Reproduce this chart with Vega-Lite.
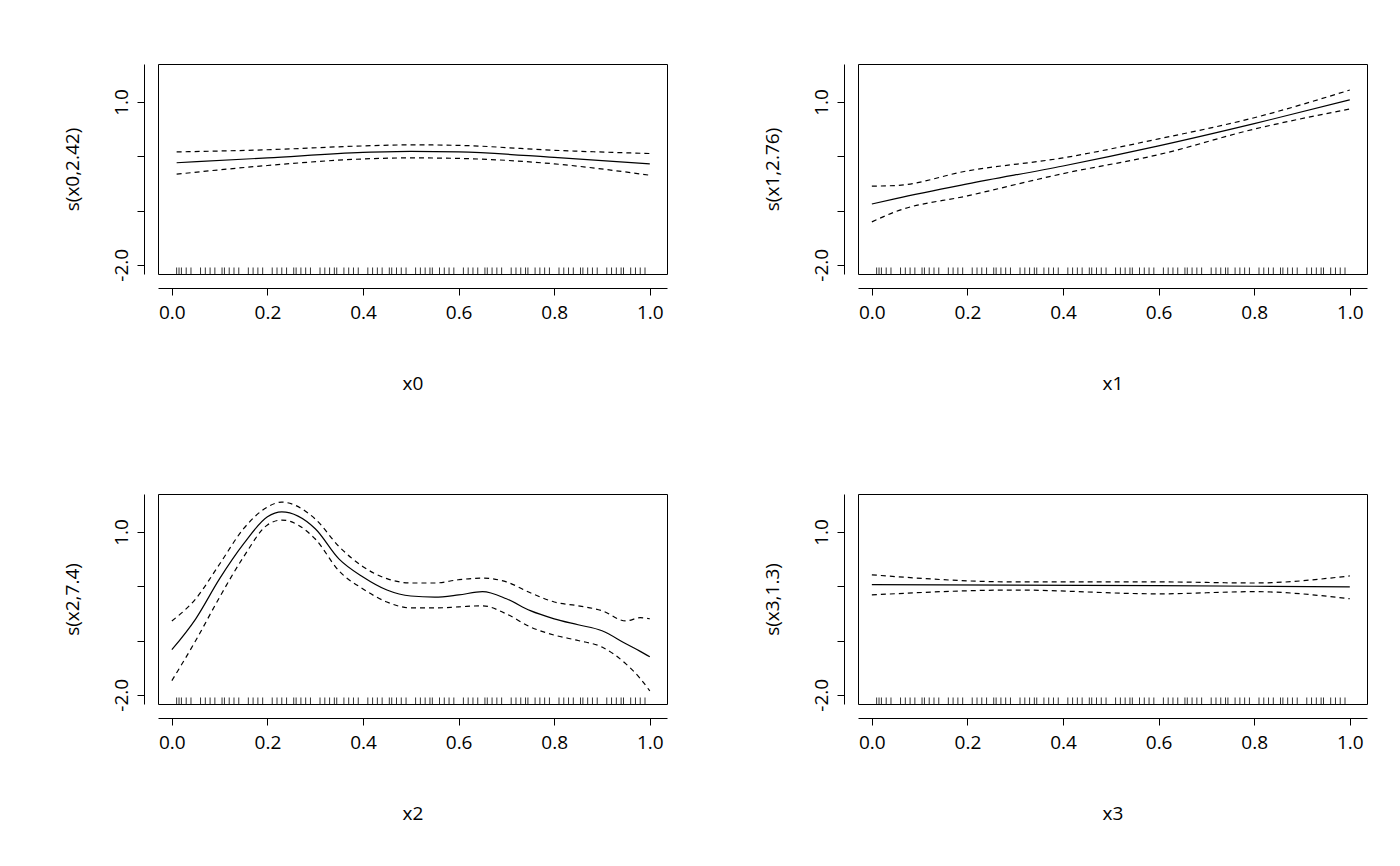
{
  "$schema": "https://vega.github.io/schema/vega-lite/v6.json",
  "padding": {"left": 62, "top": 63, "right": 10, "bottom": 10},
  "config": {
    "font": "Open Sans",
    "view": {"stroke": "black", "strokeWidth": 1},
    "axis": {
      "labelFont": "Open Sans", "titleFont": "Open Sans",
      "labelFontSize": 19, "titleFontSize": 19, "titleFontWeight": "normal",
      "labelColor": "black", "titleColor": "black",
      "domainColor": "black", "tickColor": "black", "tickSize": 7,
      "grid": false, "offset": 14
    }
  },
  "datasets": {
    "curves": [
      {"panel": "x0", "x": 0.01, "fit": -0.12, "up": 0.08, "lo": -0.33},
      {"panel": "x0", "x": 0.2, "fit": -0.03, "up": 0.12, "lo": -0.17},
      {"panel": "x0", "x": 0.4, "fit": 0.07, "up": 0.19, "lo": -0.05},
      {"panel": "x0", "x": 0.5, "fit": 0.09, "up": 0.21, "lo": -0.03},
      {"panel": "x0", "x": 0.6, "fit": 0.08, "up": 0.2, "lo": -0.04},
      {"panel": "x0", "x": 0.8, "fit": -0.02, "up": 0.11, "lo": -0.14},
      {"panel": "x0", "x": 1.0, "fit": -0.14, "up": 0.05, "lo": -0.35},
      {"panel": "x1", "x": 0.0, "fit": -0.88, "up": -0.55, "lo": -1.21},
      {"panel": "x1", "x": 0.05, "fit": -0.78, "up": -0.54, "lo": -1.02},
      {"panel": "x1", "x": 0.2, "fit": -0.51, "up": -0.27, "lo": -0.73},
      {"panel": "x1", "x": 0.4, "fit": -0.18, "up": -0.03, "lo": -0.32},
      {"panel": "x1", "x": 0.6, "fit": 0.19, "up": 0.32, "lo": 0.03},
      {"panel": "x1", "x": 0.8, "fit": 0.6, "up": 0.71, "lo": 0.5},
      {"panel": "x1", "x": 1.0, "fit": 1.04, "up": 1.22, "lo": 0.87},
      {"panel": "x2", "x": 0.0, "fit": -1.17, "up": -0.64, "lo": -1.74},
      {"panel": "x2", "x": 0.05, "fit": -0.6, "up": -0.23, "lo": -1.0},
      {"panel": "x2", "x": 0.1, "fit": 0.14, "up": 0.41, "lo": -0.2},
      {"panel": "x2", "x": 0.15, "fit": 0.78, "up": 1.06, "lo": 0.54},
      {"panel": "x2", "x": 0.2, "fit": 1.28, "up": 1.46, "lo": 1.13},
      {"panel": "x2", "x": 0.23, "fit": 1.37, "up": 1.55, "lo": 1.22},
      {"panel": "x2", "x": 0.3, "fit": 1.06, "up": 1.24, "lo": 0.87},
      {"panel": "x2", "x": 0.35, "fit": 0.5, "up": 0.73, "lo": 0.28},
      {"panel": "x2", "x": 0.4, "fit": 0.17, "up": 0.36, "lo": -0.05},
      {"panel": "x2", "x": 0.45, "fit": -0.07, "up": 0.14, "lo": -0.29},
      {"panel": "x2", "x": 0.5, "fit": -0.18, "up": 0.06, "lo": -0.4},
      {"panel": "x2", "x": 0.55, "fit": -0.2, "up": 0.06, "lo": -0.4},
      {"panel": "x2", "x": 0.6, "fit": -0.16, "up": 0.12, "lo": -0.38},
      {"panel": "x2", "x": 0.65, "fit": -0.1, "up": 0.15, "lo": -0.36},
      {"panel": "x2", "x": 0.7, "fit": -0.23, "up": 0.08, "lo": -0.51},
      {"panel": "x2", "x": 0.75, "fit": -0.45, "up": -0.12, "lo": -0.75},
      {"panel": "x2", "x": 0.8, "fit": -0.6, "up": -0.29, "lo": -0.9},
      {"panel": "x2", "x": 0.85, "fit": -0.71, "up": -0.36, "lo": -1.0},
      {"panel": "x2", "x": 0.9, "fit": -0.82, "up": -0.45, "lo": -1.12},
      {"panel": "x2", "x": 0.95, "fit": -1.06, "up": -0.64, "lo": -1.43},
      {"panel": "x2", "x": 0.98, "fit": -1.2, "up": -0.58, "lo": -1.7},
      {"panel": "x2", "x": 1.0, "fit": -1.3, "up": -0.6, "lo": -1.93},
      {"panel": "x3", "x": 0.0, "fit": 0.03, "up": 0.21, "lo": -0.16},
      {"panel": "x3", "x": 0.3, "fit": 0.02, "up": 0.08, "lo": -0.07},
      {"panel": "x3", "x": 0.6, "fit": 0.01, "up": 0.08, "lo": -0.14},
      {"panel": "x3", "x": 0.8, "fit": 0.0, "up": 0.06, "lo": -0.1},
      {"panel": "x3", "x": 1.0, "fit": -0.01, "up": 0.19, "lo": -0.23}
    ],
    "rug": [
      {"x": 0.01}, {"x": 0.03}, {"x": 0.04}, {"x": 0.06}, {"x": 0.08}, {"x": 0.09}, {"x": 0.11}, {"x": 0.13},
      {"x": 0.14}, {"x": 0.16}, {"x": 0.18}, {"x": 0.19}, {"x": 0.21}, {"x": 0.23}, {"x": 0.24}, {"x": 0.26},
      {"x": 0.28}, {"x": 0.29}, {"x": 0.31}, {"x": 0.33}, {"x": 0.34}, {"x": 0.36}, {"x": 0.38}, {"x": 0.39},
      {"x": 0.41}, {"x": 0.43}, {"x": 0.44}, {"x": 0.46}, {"x": 0.48}, {"x": 0.49}, {"x": 0.51}, {"x": 0.53},
      {"x": 0.54}, {"x": 0.56}, {"x": 0.58}, {"x": 0.59}, {"x": 0.61}, {"x": 0.63}, {"x": 0.64}, {"x": 0.66},
      {"x": 0.68}, {"x": 0.69}, {"x": 0.71}, {"x": 0.73}, {"x": 0.74}, {"x": 0.76}, {"x": 0.78}, {"x": 0.79},
      {"x": 0.81}, {"x": 0.83}, {"x": 0.84}, {"x": 0.86}, {"x": 0.88}, {"x": 0.89}, {"x": 0.91}, {"x": 0.93},
      {"x": 0.94}, {"x": 0.96}, {"x": 0.98}, {"x": 0.99}, {"x": 0.02}, {"x": 0.07}, {"x": 0.12}, {"x": 0.17},
      {"x": 0.22}, {"x": 0.27}, {"x": 0.32}, {"x": 0.37}, {"x": 0.42}, {"x": 0.47}, {"x": 0.52}, {"x": 0.57},
      {"x": 0.62}, {"x": 0.67}, {"x": 0.72}, {"x": 0.77}, {"x": 0.82}, {"x": 0.87}, {"x": 0.92}, {"x": 0.97},
      {"x": 0.015}, {"x": 0.105}, {"x": 0.255}, {"x": 0.345}, {"x": 0.455}, {"x": 0.545}, {"x": 0.655}, {"x": 0.745}, {"x": 0.855}, {"x": 0.945}
    ]
  },
  "vconcat": [
    {
      "hconcat": [
        {
          "width": 509, "height": 210,
          "encoding": {
            "x": {"field": "x", "type": "quantitative", "scale": {"domain": [-0.029, 1.036], "nice": false}, "title": "x0",
                  "axis": {"values": [0, 0.2, 0.4, 0.6, 0.8, 1.0], "format": ".1f", "labelPadding": 8, "titlePadding": 52}}
          },
          "layer": [
            {"data": {"name": "curves"}, "transform": [{"filter": "datum.panel == 'x0'"}], "mark": {"type": "line", "color": "black", "strokeWidth": 1.2, "interpolate": "monotone"},
             "encoding": {"y": {"field": "fit", "type": "quantitative", "title": "s(x0,2.42)", "scale": {"domain": [-2.17, 1.7], "nice": false},
               "axis": {"values": [-2, -1.5, -1, -0.5, 0, 0.5, 1, 1.5], "labelExpr": "datum.value == -2 ? '-2.0' : datum.value == -0.5 ? '-0.5' : datum.value == 1 ? '1.0' : ''", "labelAngle": -90, "labelAlign": "center", "labelBaseline": "bottom", "labelPadding": 6, "titlePadding": 30}}}},
            {"data": {"name": "curves"}, "transform": [{"filter": "datum.panel == 'x0'"}], "mark": {"type": "line", "color": "black", "strokeWidth": 1.2, "strokeDash": [5, 4], "interpolate": "monotone"},
             "encoding": {"y": {"field": "up", "type": "quantitative", "title": "s(x0,2.42)"}}},
            {"data": {"name": "curves"}, "transform": [{"filter": "datum.panel == 'x0'"}], "mark": {"type": "line", "color": "black", "strokeWidth": 1.2, "strokeDash": [5, 4], "interpolate": "monotone"},
             "encoding": {"y": {"field": "lo", "type": "quantitative", "title": "s(x0,2.42)"}}},
            {"data": {"name": "rug"}, "mark": {"type": "rule", "color": "black", "strokeWidth": 0.8},
             "encoding": {"y": {"datum": -2.17, "title": "s(x0,2.42)"}, "y2": {"datum": -2.05}}}
          ]
        },
        {
          "width": 509, "height": 210,
          "encoding": {
            "x": {"field": "x", "type": "quantitative", "scale": {"domain": [-0.029, 1.036], "nice": false}, "title": "x1",
                  "axis": {"values": [0, 0.2, 0.4, 0.6, 0.8, 1.0], "format": ".1f", "labelPadding": 8, "titlePadding": 52}}
          },
          "layer": [
            {"data": {"name": "curves"}, "transform": [{"filter": "datum.panel == 'x1'"}], "mark": {"type": "line", "color": "black", "strokeWidth": 1.2, "interpolate": "monotone"},
             "encoding": {"y": {"field": "fit", "type": "quantitative", "title": "s(x1,2.76)", "scale": {"domain": [-2.17, 1.7], "nice": false},
               "axis": {"values": [-2, -1.5, -1, -0.5, 0, 0.5, 1, 1.5], "labelExpr": "datum.value == -2 ? '-2.0' : datum.value == -0.5 ? '-0.5' : datum.value == 1 ? '1.0' : ''", "labelAngle": -90, "labelAlign": "center", "labelBaseline": "bottom", "labelPadding": 6, "titlePadding": 30}}}},
            {"data": {"name": "curves"}, "transform": [{"filter": "datum.panel == 'x1'"}], "mark": {"type": "line", "color": "black", "strokeWidth": 1.2, "strokeDash": [5, 4], "interpolate": "monotone"},
             "encoding": {"y": {"field": "up", "type": "quantitative", "title": "s(x1,2.76)"}}},
            {"data": {"name": "curves"}, "transform": [{"filter": "datum.panel == 'x1'"}], "mark": {"type": "line", "color": "black", "strokeWidth": 1.2, "strokeDash": [5, 4], "interpolate": "monotone"},
             "encoding": {"y": {"field": "lo", "type": "quantitative", "title": "s(x1,2.76)"}}},
            {"data": {"name": "rug"}, "mark": {"type": "rule", "color": "black", "strokeWidth": 0.8},
             "encoding": {"y": {"datum": -2.17, "title": "s(x1,2.76)"}, "y2": {"datum": -2.05}}}
          ]
        }
      ],
      "spacing": 94
    },
    {
      "hconcat": [
        {
          "width": 509, "height": 210,
          "encoding": {
            "x": {"field": "x", "type": "quantitative", "scale": {"domain": [-0.029, 1.036], "nice": false}, "title": "x2",
                  "axis": {"values": [0, 0.2, 0.4, 0.6, 0.8, 1.0], "format": ".1f", "labelPadding": 8, "titlePadding": 52}}
          },
          "layer": [
            {"data": {"name": "curves"}, "transform": [{"filter": "datum.panel == 'x2'"}], "mark": {"type": "line", "color": "black", "strokeWidth": 1.2, "interpolate": "monotone"},
             "encoding": {"y": {"field": "fit", "type": "quantitative", "title": "s(x2,7.4)", "scale": {"domain": [-2.17, 1.7], "nice": false},
               "axis": {"values": [-2, -1.5, -1, -0.5, 0, 0.5, 1, 1.5], "labelExpr": "datum.value == -2 ? '-2.0' : datum.value == -0.5 ? '-0.5' : datum.value == 1 ? '1.0' : ''", "labelAngle": -90, "labelAlign": "center", "labelBaseline": "bottom", "labelPadding": 6, "titlePadding": 30}}}},
            {"data": {"name": "curves"}, "transform": [{"filter": "datum.panel == 'x2'"}], "mark": {"type": "line", "color": "black", "strokeWidth": 1.2, "strokeDash": [5, 4], "interpolate": "monotone"},
             "encoding": {"y": {"field": "up", "type": "quantitative", "title": "s(x2,7.4)"}}},
            {"data": {"name": "curves"}, "transform": [{"filter": "datum.panel == 'x2'"}], "mark": {"type": "line", "color": "black", "strokeWidth": 1.2, "strokeDash": [5, 4], "interpolate": "monotone"},
             "encoding": {"y": {"field": "lo", "type": "quantitative", "title": "s(x2,7.4)"}}},
            {"data": {"name": "rug"}, "mark": {"type": "rule", "color": "black", "strokeWidth": 0.8},
             "encoding": {"y": {"datum": -2.17, "title": "s(x2,7.4)"}, "y2": {"datum": -2.05}}}
          ]
        },
        {
          "width": 509, "height": 210,
          "encoding": {
            "x": {"field": "x", "type": "quantitative", "scale": {"domain": [-0.029, 1.036], "nice": false}, "title": "x3",
                  "axis": {"values": [0, 0.2, 0.4, 0.6, 0.8, 1.0], "format": ".1f", "labelPadding": 8, "titlePadding": 52}}
          },
          "layer": [
            {"data": {"name": "curves"}, "transform": [{"filter": "datum.panel == 'x3'"}], "mark": {"type": "line", "color": "black", "strokeWidth": 1.2, "interpolate": "monotone"},
             "encoding": {"y": {"field": "fit", "type": "quantitative", "title": "s(x3,1.3)", "scale": {"domain": [-2.17, 1.7], "nice": false},
               "axis": {"values": [-2, -1.5, -1, -0.5, 0, 0.5, 1, 1.5], "labelExpr": "datum.value == -2 ? '-2.0' : datum.value == -0.5 ? '-0.5' : datum.value == 1 ? '1.0' : ''", "labelAngle": -90, "labelAlign": "center", "labelBaseline": "bottom", "labelPadding": 6, "titlePadding": 30}}}},
            {"data": {"name": "curves"}, "transform": [{"filter": "datum.panel == 'x3'"}], "mark": {"type": "line", "color": "black", "strokeWidth": 1.2, "strokeDash": [5, 4], "interpolate": "monotone"},
             "encoding": {"y": {"field": "up", "type": "quantitative", "title": "s(x3,1.3)"}}},
            {"data": {"name": "curves"}, "transform": [{"filter": "datum.panel == 'x3'"}], "mark": {"type": "line", "color": "black", "strokeWidth": 1.2, "strokeDash": [5, 4], "interpolate": "monotone"},
             "encoding": {"y": {"field": "lo", "type": "quantitative", "title": "s(x3,1.3)"}}},
            {"data": {"name": "rug"}, "mark": {"type": "rule", "color": "black", "strokeWidth": 0.8},
             "encoding": {"y": {"datum": -2.17, "title": "s(x3,1.3)"}, "y2": {"datum": -2.05}}}
          ]
        }
      ],
      "spacing": 94
    }
  ],
  "spacing": 99
}
